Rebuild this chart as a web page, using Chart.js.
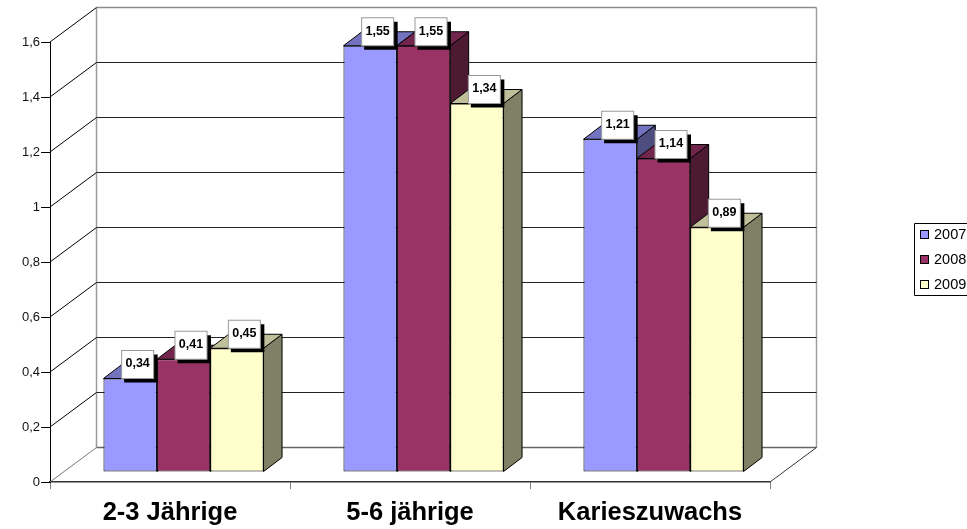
<!DOCTYPE html>
<html>
<head>
<meta charset="utf-8">
<title>Karies</title>
<script src="https://cdn.jsdelivr.net/npm/chart.js@4"></script>
<style>
	html, body { margin: 0; padding: 0; background: #fff; overflow: hidden; }
	#wrap { position: relative; width: 967px; height: 529px; }
</style>
</head>
<body>
<div id="wrap"><canvas id="chart" width="967" height="529"></canvas></div>
<script>
'use strict';

var categories = ['2-3 Jährige', '5-6 jährige', 'Karieszuwachs'];
var seriesNames = ['2007', '2008', '2009'];
var values2007 = [0.34, 1.55, 1.21];
var values2008 = [0.41, 1.55, 1.14];
var values2009 = [0.45, 1.34, 0.89];

var fills = ['#9999ff', '#993366', '#ffffcc'];
var tops = ['#7373bf', '#73264d', '#bfbf99'];
var sides = ['#4d4d80', '#4d1a33', '#808066'];

var fontName = '"Liberation Sans", Arial, sans-serif';
var wallX = 46.5, wallY = -34.5;	// depth of the back wall
var barDx = 18.5, barDy = -14;		// depth of a bar
var shiftX = 13.5, shiftY = -10;	// bars stand inside the floor

function comma(v, digits) {
	return v.toFixed(digits).replace('.', ',').replace(/,0$/, '');
}

function line(ctx, x1, y1, x2, y2, color, width) {
	ctx.strokeStyle = color;
	ctx.lineWidth = width;
	ctx.beginPath();
	ctx.moveTo(x1, y1);
	ctx.lineTo(x2, y2);
	ctx.stroke();
}

function poly(ctx, points, fill) {
	ctx.fillStyle = fill;
	ctx.strokeStyle = '#000';
	ctx.lineWidth = 1;
	ctx.beginPath();
	ctx.moveTo(points[0][0], points[0][1]);
	for (var i = 1; i < points.length; i++) {
		ctx.lineTo(points[i][0], points[i][1]);
	}
	ctx.closePath();
	ctx.fill();
	ctx.stroke();
}

var box3d = {
	id: 'box3d',
	beforeDatasetsDraw: function(chart) {
		var ctx = chart.ctx, area = chart.chartArea, y = chart.scales.y;
		var backLeft = area.left + wallX, backRight = area.right + wallX;
		var y0 = y.getPixelForValue(0), yTop = y.getPixelForValue(1.6);

		ctx.save();
		// walls and floor
		line(ctx, backLeft, yTop + wallY, backRight, yTop + wallY, '#8c8c8c', 1.5);
		line(ctx, backLeft, yTop + wallY, backLeft, y0 + wallY, '#9a9a9a', 1.5);
		line(ctx, backRight, yTop + wallY, backRight, y0 + wallY, '#a0a0a0', 1.5);
		line(ctx, backLeft, y0 + wallY, backRight, y0 + wallY, '#666', 1.5);
		line(ctx, area.left, y0, backLeft, y0 + wallY, '#777', 1);
		line(ctx, area.right, y0, backRight, y0 + wallY, '#333', 1);

		// grid lines
		y.ticks.forEach(function(t) {
			if (t.value === 0) {
				return;
			}
			var py = y.getPixelForValue(t.value);
			line(ctx, area.left, py, backLeft, py + wallY, '#000', 1);
			if (t.value < 1.5) {
				line(ctx, backLeft, py + wallY, backRight, py + wallY, '#222', 1);
			}
		});
		ctx.restore();

		ctx.save();
		ctx.translate(shiftX, shiftY);

		// tops and sides first, left bar to right bar, the fronts then cover them
		chart.data.datasets.forEach(function(ds, i) {
			chart.getDatasetMeta(i).data.forEach(function(bar) {
				var left = bar.x - bar.width / 2, right = bar.x + bar.width / 2;
				poly(ctx, [[right, bar.y], [right + barDx, bar.y + barDy], [right + barDx, bar.base + barDy], [right, bar.base]], sides[i]);
				poly(ctx, [[left, bar.y], [left + barDx, bar.y + barDy], [right + barDx, bar.y + barDy], [right, bar.y]], tops[i]);
			});
		});
	},
	afterDatasetsDraw: function(chart) {
		var ctx = chart.ctx;
		ctx.restore();

		// value boxes
		ctx.save();
		ctx.font = 'bold 12.5px ' + fontName;
		ctx.textAlign = 'center';
		ctx.textBaseline = 'middle';
		chart.data.datasets.forEach(function(ds, i) {
			chart.getDatasetMeta(i).data.forEach(function(bar, j) {
				var cx = bar.x + shiftX + 7.5, bottom = bar.y + shiftY;
				ctx.fillStyle = '#000';
				ctx.fillRect(cx - 13.5, bottom - 24, 33.5, 28);
				ctx.fillStyle = '#fff';
				ctx.strokeStyle = '#999';
				ctx.lineWidth = 1;
				ctx.fillRect(cx - 16, bottom - 28, 32, 28);
				ctx.strokeRect(cx - 16, bottom - 28, 32, 28);
				ctx.fillStyle = '#000';
				ctx.fillText(comma(ds.data[j], 2), cx, bottom - 14.5);
			});
		});

		// legend
		ctx.strokeStyle = '#000';
		ctx.lineWidth = 1;
		ctx.beginPath();
		ctx.moveTo(967, 223.5);
		ctx.lineTo(914.5, 223.5);
		ctx.lineTo(914.5, 295.5);
		ctx.lineTo(967, 295.5);
		ctx.stroke();
		ctx.font = '14.5px ' + fontName;
		ctx.textAlign = 'left';
		ctx.textBaseline = 'middle';
		chart.data.datasets.forEach(function(ds, i) {
			var ly = 234.5 + i * 25;
			ctx.fillStyle = ds.backgroundColor;
			ctx.fillRect(920.5, ly - 4, 8, 8);
			ctx.strokeRect(920.5, ly - 4, 8, 8);
			ctx.fillStyle = '#000';
			ctx.fillText(ds.label, 934, ly);
		});
		ctx.restore();
	}
};

function makeDataset(i, values) {
	return {
		label: seriesNames[i],
		data: values,
		backgroundColor: fills[i],
		borderColor: '#000',
		borderWidth: 1,
		borderSkipped: false,
		categoryPercentage: 0.667,
		barPercentage: 1,
		clip: false
	};
}

new Chart(document.getElementById('chart'), {
	type: 'bar',
	data: {
		labels: categories,
		datasets: [makeDataset(0, values2007), makeDataset(1, values2008), makeDataset(2, values2009)]
	},
	options: {
		responsive: false,
		animation: false,
		layout: { padding: { top: 42, right: 197, left: 0, bottom: 0 } },
		plugins: {
			legend: { display: false },
			tooltip: { enabled: false }
		},
		scales: {
			x: {
				ticks: {
					color: '#000',
					padding: 9,
					maxRotation: 0,
					font: { family: fontName, size: 25.5, weight: 'bold' }
				},
				grid: { drawOnChartArea: false, tickLength: 7, color: '#808080' },
				border: { color: '#333', width: 1.5 },
				afterFit: function(scale) { scale.height = 47; }
			},
			y: {
				min: 0,
				max: 1.6,
				ticks: {
					stepSize: 0.2,
					color: '#111',
					padding: 1,
					font: { family: fontName, size: 13 },
					callback: function(v) { return comma(v, 1); }
				},
				grid: { drawOnChartArea: false, tickLength: 9, color: '#000' },
				border: { color: '#000' },
				afterFit: function(scale) { scale.width = 50; }
			}
		}
	},
	plugins: [box3d]
});
</script>
</body>
</html>
